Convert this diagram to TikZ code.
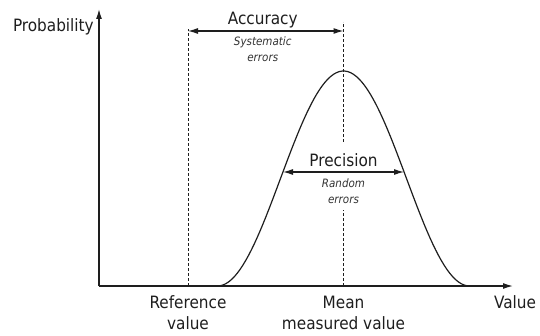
\documentclass[tikz,border=0pt]{standalone}
\usepackage{fontspec}
\setmainfont{DejaVu Sans Condensed}
\usepackage{xcolor}
\definecolor{ink}{HTML}{1E1E1E}
\definecolor{mute}{HTML}{333333}
\usetikzlibrary{arrows.meta,positioning,calc}
\tikzset{
  >={Latex[length=10pt,width=6pt]},
  axis/.style={->,draw=ink,line width=1.3pt},
  curve/.style={draw=ink,line width=1.2pt},
  guide/.style={draw=ink,line width=1pt,dash pattern=on 3pt off 2pt},
  span/.style={<->,draw=ink,line width=1.1pt},
  lab/.style={font=\fontsize{17}{21}\selectfont,text=ink,align=center,inner sep=0pt},
  note/.style={font=\fontsize{11.5}{16}\selectfont\itshape,text=mute,align=center,inner sep=0pt},
}

\begin{document}
\begin{tikzpicture}[x=1pt,y=1pt]
\useasboundingbox (0,0) rectangle (540,335);
% axes
\coordinate (O) at (99,49);
\coordinate (ytop) at (99,326);
\coordinate (xend) at (513,49);
\draw[axis] (O) -- (ytop);
\draw[axis] (O) -- (xend);
\node[lab,anchor=base east] (prob) at (94,303) {Probability};
\node[lab,anchor=base west] (val) at (494,27) {Value};
% reference and mean
\coordinate (ref) at (188,49);
\coordinate (reftop) at (188,306);
\coordinate (mean) at (343.5,49);
\coordinate (meanlo) at (343.5,125);
\coordinate (meanhi) at (343.5,193);
\coordinate (meantop) at (343.5,313);
\draw[guide] (ref) -- (reftop);
\draw[guide] (mean) -- (meanlo);
\draw[guide] (meanhi) -- (meantop);
% base of a two-line label sits on its last line
\node[lab,anchor=base] (reflab) at (188,6) {Reference\\value};
\node[lab,anchor=base] (meanlab) at (343.5,6) {Mean\\measured value};
% distribution
\draw[curve] plot[domain=-126:126,samples=90,variable=\t]
  ({343.5+\t},{49+107.5*(1+cos(\t/126*180))});
% accuracy
\coordinate (accl) at (188,304);
\coordinate (accr) at (343.5,304);
\draw[span] (accl) -- (accr);
\node[lab,anchor=base] (acc) at ($(accl)!0.5!(accr)+(-3,6)$) {Accuracy};
\node[note,anchor=base] (sys) at ($(accl)!0.5!(accr)+(-3,-31)$) {Systematic\\errors};
% precision
\coordinate (precl) at (283,163);
\coordinate (precr) at (404,163);
\draw[span] (precl) -- (precr);
\node[lab,anchor=base] (prec) at ($(precl)!0.5!(precr)+(0,5)$) {Precision};
\node[note,anchor=base] (rnd) at ($(precl)!0.5!(precr)+(0,-31)$) {Random\\errors};
\end{tikzpicture}
\end{document}
